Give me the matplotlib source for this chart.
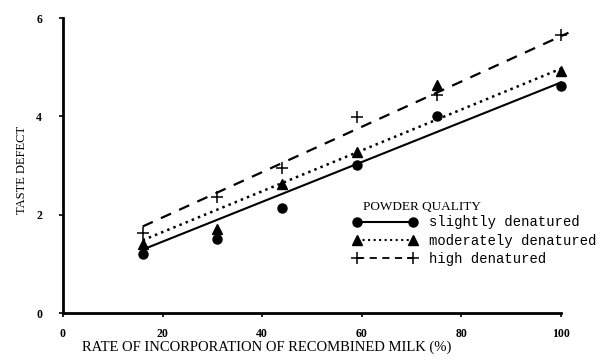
import numpy as np
import matplotlib.pyplot as plt

# data
rate = [16, 31, 44, 59, 75, 100]
slight = [1.20, 1.51, 2.14, 3.02, 4.00, 4.61]
moderate = [1.41, 1.71, 2.63, 3.27, 4.63, 4.92]
high = [1.63, 2.35, 2.94, 3.98, 4.43, 5.65]

fit_x = [16, 100]
fit_slight = [1.29, 4.69]
fit_moderate = [1.48, 4.97]
fit_high = [1.76, 5.70]
fit_x_high = [16, 101.5]

labels = ['slightly denatured', 'moderately denatured', 'high denatured']

fig = plt.figure(figsize=(6, 3.64), dpi=100)
ax = fig.add_axes([0.105, 0.1401, 0.830, 0.8104])

ax.plot(rate, slight, 'o', color='black', ms=6.5, clip_on=False)
ax.plot(rate, moderate, '^', color='black', ms=7, clip_on=False)
ax.plot(rate, high, '+', color='black', ms=9, mew=1.1, clip_on=False)

ax.plot(fit_x, fit_slight, '-', color='black', lw=1.5, clip_on=False)
ax.plot(fit_x, fit_moderate, ':', color='black', lw=1.8, clip_on=False)
ax.plot(fit_x_high, fit_high, '--', color='black', lw=1.6, dashes=(5, 4), clip_on=False)

# legend proxies: marker at both ends of the line
h1, = ax.plot([], [], 'o-', color='black', ms=6.5, lw=1.5)
h2, = ax.plot([], [], '^:', color='black', ms=6.5, lw=1.5)
h3, = ax.plot([], [], '+--', color='black', ms=9, mew=1.1, lw=1.3, dashes=(4, 3))
leg = fig.legend([h1, h2, h3], labels, loc='upper left',
                 bbox_to_anchor=(0.588, 0.408), frameon=False, numpoints=2,
                 handlelength=4.6, handletextpad=0.9, labelspacing=0.3,
                 borderaxespad=0, borderpad=0,
                 prop={'family': 'Liberation Mono', 'size': 10})
fig.text(0.605, 0.432, 'POWDER QUALITY', ha='left', va='center',
         family='Liberation Serif', size=9.5)

ax.set_xlim(0, 100)
ax.set_ylim(0, 6)
ax.set_xticks([0, 20, 40, 60, 80, 100])
ax.set_yticks([0, 2, 4, 6])
for s in ['top', 'right']:
    ax.spines[s].set_visible(False)
for s in ['left', 'bottom']:
    ax.spines[s].set_linewidth(2)
ax.tick_params(axis='both', direction='out', length=3, width=1.2, labelsize=8.5)
ax.tick_params(axis='x', pad=8)
ax.tick_params(axis='y', pad=12)
for t in ax.get_xticklabels() + ax.get_yticklabels():
    t.set_fontfamily('Liberation Serif')
    t.set_fontweight('bold')

fig.text(0.444, 0.047, 'RATE OF INCORPORATION OF RECOMBINED MILK (%)',
         ha='center', va='center', family='Liberation Serif', size=10.5)
fig.text(0.036, 0.533, 'TASTE DEFECT', rotation=90, ha='center', va='center',
         family='Liberation Serif', size=9)

fig.savefig('out.png', dpi=100)
